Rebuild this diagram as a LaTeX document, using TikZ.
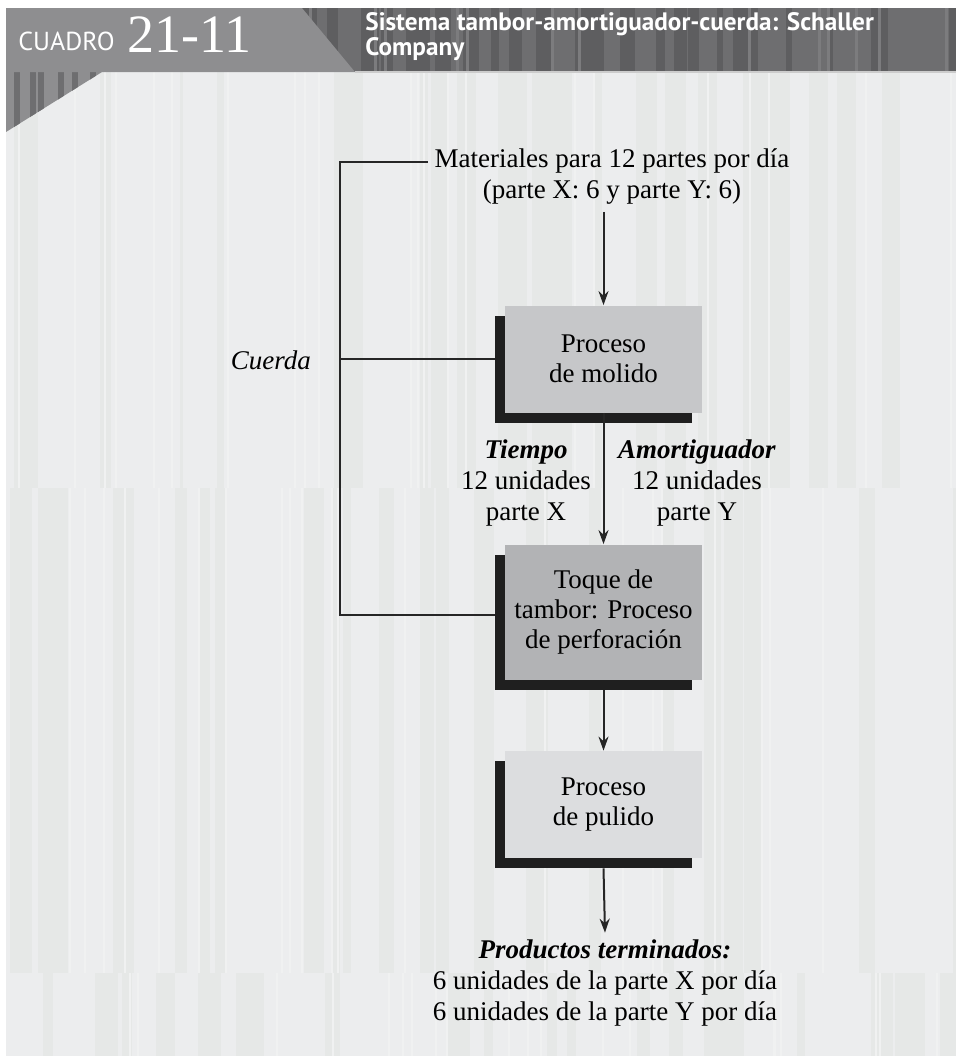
\documentclass[tikz,border=0pt]{standalone}
\usepackage{fontspec}
\setmainfont{Liberation Serif}
\newfontfamily\headsans{PT Sans}
\usetikzlibrary{arrows.meta,positioning,shadows}
\definecolor{panel}{HTML}{ECEDEE}
\definecolor{stripe}{HTML}{E6E8E7}
\definecolor{stripelt}{HTML}{F0F1F1}
\definecolor{headdark}{HTML}{6E6E70}
\definecolor{headstripe}{HTML}{5E5E60}
\definecolor{headlt}{HTML}{7C7C7E}
\definecolor{tabgray}{HTML}{8E8E90}
\definecolor{millgray}{HTML}{C6C7C9}
\definecolor{drumgray}{HTML}{B2B3B5}
\definecolor{polishgray}{HTML}{DCDDDF}

\tikzset{
  procbox/.style={fill=#1, minimum width=98.5pt, align=center, inner sep=0pt,
    font=\fontsize{13.5}{15}\selectfont,
    drop shadow={shadow xshift=-5pt, shadow yshift=-5pt, fill=black!88, opacity=1}},
  flow/.style={-{Stealth[length=7pt,width=5pt]}, line width=1pt, black!85},
  rope/.style={line width=1pt, black!85},
  txt/.style={align=center, font=\fontsize{13.5}{15.5}\selectfont},
}

\begin{document}
\begin{tikzpicture}[x=0.5pt,y=-0.5pt]
  \useasboundingbox (0,0) rectangle (956,1056);
  % striped panel
  \begin{scope}
    \clip (6,72) rectangle (956,1056);
    \fill[panel] (6,72) rectangle (956,1056);
    \pgfmathsetseed{21}
    \foreach \ya/\yb in {72/488,488/973,973/1056}{
      \foreach \k in {1,...,34}{
        \pgfmathsetmacro\sx{6+950*rnd}
        \pgfmathsetmacro\sw{3+20*rnd}
        \fill[stripe] (\sx,\ya) rectangle (\sx+\sw,\yb);
      }
      \foreach \k in {1,...,22}{
        \pgfmathsetmacro\sx{6+950*rnd}
        \fill[stripelt] (\sx,\ya) rectangle (\sx+2,\yb);
      }
    }
  \end{scope}
  % header band
  \begin{scope}
    \clip (6,8) rectangle (956,72);
    \fill[headdark] (6,8) rectangle (956,72);
    \pgfmathsetseed{5}
    \foreach \k in {1,...,45}{
      \pgfmathsetmacro\sx{6+950*rnd}
      \pgfmathsetmacro\sw{3+14*rnd}
      \fill[headstripe] (\sx,8) rectangle (\sx+\sw,72);
    }
    \foreach \k in {1,...,20}{
      \pgfmathsetmacro\sx{6+950*rnd}
      \fill[headlt] (\sx,8) rectangle (\sx+3,72);
    }
  \end{scope}
  % corner under the tab
  \begin{scope}
    \clip (6,72) -- (102,72) -- (6,132) -- cycle;
    \fill[tabgray] (6,72) rectangle (102,132);
    \foreach \sx in {14,30,38,58,72,90}{
      \fill[headdark] (\sx,72) rectangle (\sx+6,132);
    }
  \end{scope}
  \draw[gray!40,line width=1pt] (355,72) -- (956,72);
  \fill[tabgray] (6,8) -- (302,8) -- (355,72) -- (6,72) -- cycle;
  \node[anchor=base west,text=white,inner sep=0pt,font=\headsans\fontsize{13}{13}\selectfont] (cuadro) at (18,50) {CUADRO};
  \node[anchor=base west,text=white,inner sep=0pt,font=\fontsize{27}{27}\selectfont] (num) at (127,52) {21-11};
  \node[anchor=north west,text=white,inner sep=0pt,align=left,font=\headsans\bfseries\fontsize{12.6}{10}\selectfont] (title) at (365,12) {Sistema tambor-amortiguador-cuerda: Schaller\\Company};

  % flow
  \node[txt] (mat) at (612,177) {Materiales para 12 partes por día\\(parte X: 6 y parte Y: 6)};
  \node[procbox=millgray, minimum height=53.5pt] (mill) at (603.5,359) {Proceso\\de molido};
  \node[procbox=drumgray, minimum height=67.5pt] (drum) at (603.5,612) {Toque de\\tambor: Proceso\\de perforación};
  \node[procbox=polishgray, minimum height=53.5pt] (polish) at (603.5,804.5) {Proceso\\de pulido};
  \node[txt] (out) at (605,983) {\textbf{\textit{Productos terminados:}}\\6 unidades de la parte X por día\\6 unidades de la parte Y por día};

  \node[txt] (time) at (526,483) {\textbf{\textit{Tiempo}}\\12 unidades\\parte X};
  \node[txt] (buffer) at (697,483) {\textbf{\textit{Amortiguador}}\\12 unidades\\parte Y};

  \draw[flow] (mill.north |- mat.south) -- (mill.north);
  \draw[flow] (mill.south) -- (drum.north);
  \draw[flow] ([yshift=-5pt]drum.south) -- (polish.north);
  \draw[flow] ([yshift=-5pt]polish.south) -- (out.north);

  % rope
  \coordinate (ropeend) at (340,615);
  \draw[rope] ([yshift=7.75pt]mat.west) -| (ropeend) -- ([xshift=-5pt]drum.west |- ropeend);
  \draw[rope] ([xshift=-5pt]mill.west) -- (mill.west -| ropeend);
  \node[txt,anchor=east,font=\itshape\fontsize{13.5}{15}\selectfont] (rope) at (318,360) {Cuerda};
\end{tikzpicture}
\end{document}
